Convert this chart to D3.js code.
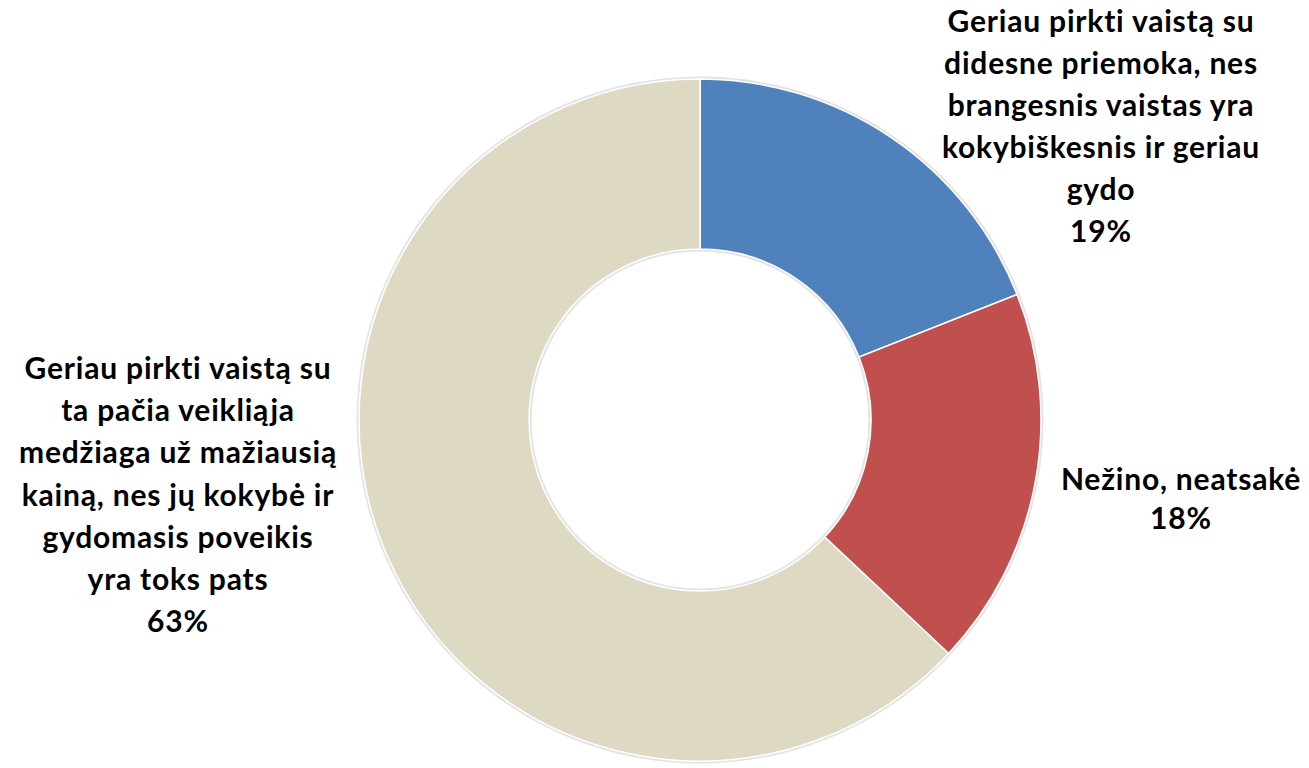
<!DOCTYPE html>
<html>
<head>
<meta charset="utf-8">
<script src="https://cdn.jsdelivr.net/npm/d3@7"></script>
<style>
  body { margin: 0; background: #fff; }
  .lbl { font-family: Lato, "Open Sans", sans-serif; font-weight: bold; font-size: 30px; fill: #000;
         font-variant-ligatures: none; letter-spacing: 0.8px; }
</style>
</head>
<body>
<div class="sandbox"></div>
<script>
var categories = [
  "Geriau pirkti vaistą su didesne priemoka, nes brangesnis vaistas yra kokybiškesnis ir geriau gydo",
  "Nežino, neatsakė",
  "Geriau pirkti vaistą su ta pačia veikliąja medžiaga už mažiausią kainą, nes jų kokybė ir gydomasis poveikis yra toks pats"
];
var values = [19, 18, 63];
var labelLines = [
  ["Geriau pirkti vaistą su", "didesne priemoka, nes", "brangesnis vaistas yra", "kokybiškesnis ir geriau", "gydo"],
  ["Nežino, neatsakė"],
  ["Geriau pirkti vaistą su", "ta pačia veikliąja", "medžiaga už mažiausią", "kainą, nes jų kokybė ir", "gydomasis poveikis", "yra toks pats"]
];
var colors = ["#4f81bd", "#c0504d", "#ddd9c3"];

var w = 1309, h = 768;
var cx = 700, cy = 420, rOut = 341, rIn = 171;

var svg = d3.select(".sandbox").append("svg")
  .attr("width", w)
  .attr("height", h);

var g = svg.append("g").attr("transform", "translate(" + [cx, cy] + ")");

// faint grey rim like the original's soft edge
g.append("circle").attr("r", rOut + 1).attr("fill", "none").attr("stroke", "#e3e3e3").attr("stroke-width", 3);
g.append("circle").attr("r", rIn - 1).attr("fill", "none").attr("stroke", "#e3e3e3").attr("stroke-width", 3);

var pie = d3.pie().sort(null).value(d => d);
var arc = d3.arc().innerRadius(rIn).outerRadius(rOut);

g.selectAll("path")
  .data(pie(values))
  .enter()
  .append("path")
  .attr("d", arc)
  .attr("fill", (d, i) => colors[i])
  .attr("stroke", "#fff")
  .attr("stroke-width", 1.5);

// label anchors: centre x, first baseline, line step
var labelPos = [
  { x: 1101, y: 32, step: 42 },
  { x: 1181, y: 490, step: 39 },
  { x: 178, y: 379, step: 42.2 }
];

labelLines.forEach(function(lines, i) {
  var all = lines.concat([values[i] + "%"]);
  var t = svg.append("text")
    .attr("class", "lbl")
    .attr("text-anchor", "middle");
  t.selectAll("tspan")
    .data(all)
    .enter()
    .append("tspan")
    .attr("x", labelPos[i].x)
    .attr("y", (d, j) => labelPos[i].y + j * labelPos[i].step)
    .text(d => d);
});
</script>
</body>
</html>
